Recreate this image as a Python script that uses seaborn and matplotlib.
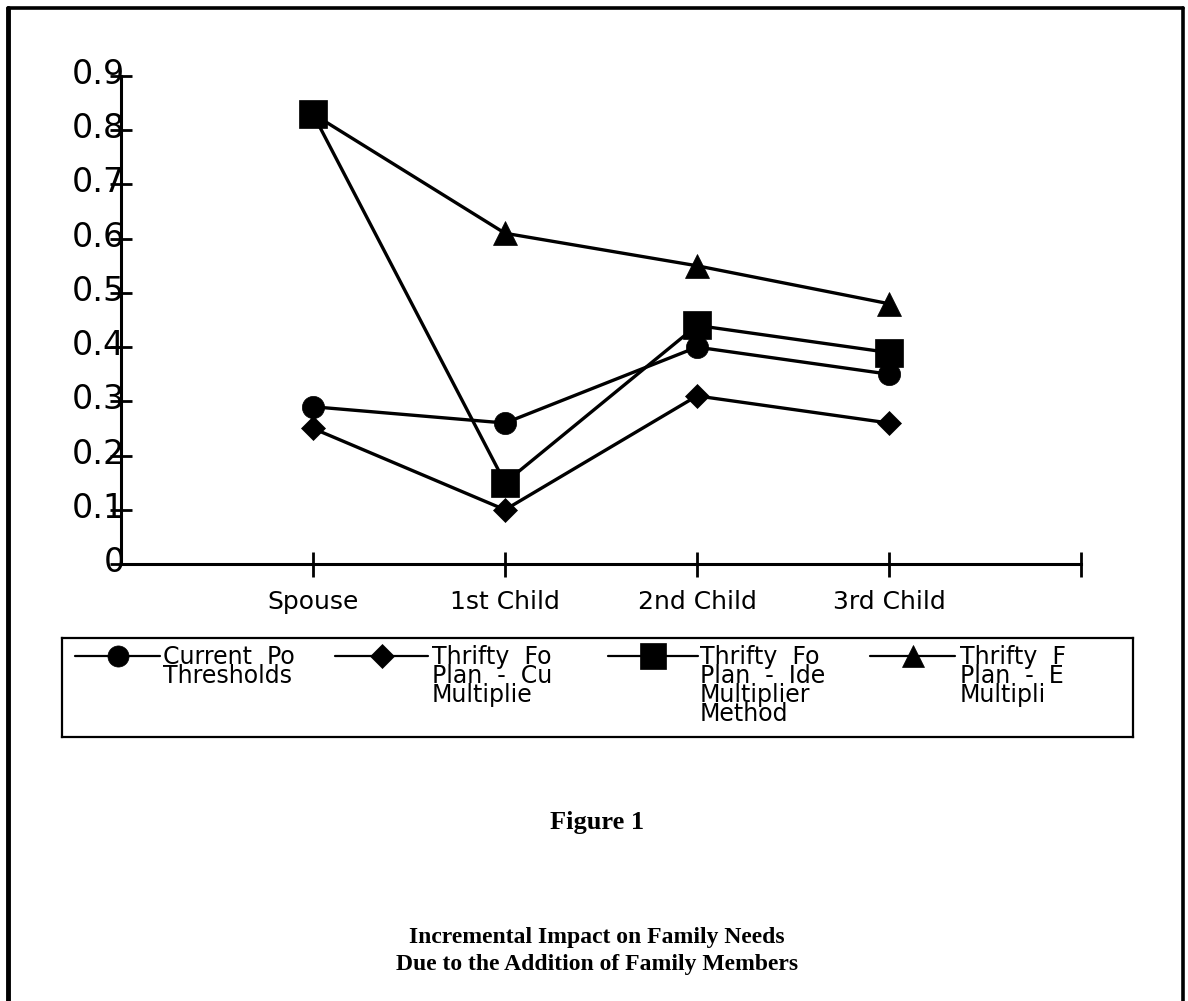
import pandas as pd
import matplotlib
matplotlib.use("Agg")
import matplotlib.pyplot as plt
import seaborn as sns
from matplotlib.lines import Line2D
from matplotlib.transforms import Bbox, TransformedBbox, ScaledTranslation

# data
members = ["Spouse", "1st Child", "2nd Child", "3rd Child"]
current_poverty = [0.29, 0.26, 0.40, 0.35]
tfp_current_mult = [0.25, 0.10, 0.31, 0.26]
tfp_ideal_mult = [0.83, 0.15, 0.44, 0.39]
tfp_engel_mult = [0.83, 0.61, 0.55, 0.48]

# legend text as it shows (cut off by the legend columns)
legend_text = [
    "Current  Po\nThresholds",
    "Thrifty  Fo\nPlan  -  Cu\nMultiplie",
    "Thrifty  Fo\nPlan  -  Ide\nMultiplier\nMethod",
    "Thrifty  F\nPlan  -  E\nMultipli",
]
y_ticks = [0, 0.1, 0.2, 0.3, 0.4, 0.5, 0.6, 0.7, 0.8, 0.9]
y_tick_labels = ["0", "0.1", "0.2", "0.3", "0.4", "0.5", "0.6", "0.7", "0.8", "0.9"]

W, H = 1188, 1001
sns.set_theme(style="white")
plt.rcParams["font.family"] = ["DejaVu Sans"]
plt.rcParams["text.color"] = "black"

fig = plt.figure(figsize=(W / 100, H / 100), dpi=100)
# axes placed in pixel units of the page
ax = fig.add_axes([121 / W, 1 - 564 / H, (1081 - 121) / W, (564 - 76) / H])

series = [current_poverty, tfp_current_mult, tfp_ideal_mult, tfp_engel_mult]
markers = ["o", "D", "s", "^"]
msizes = [16, 12.5, 19.5, 17]
# engel first so the ideal-multiplier square sits on top at Spouse
for i in [3, 0, 1, 2]:
    sns.lineplot(x=members, y=series[i], sort=False, color="black", lw=2.4,
                 marker=markers[i], markersize=msizes[i], markeredgewidth=0.5,
                 markeredgecolor="black", ax=ax)

ax.set_xlim(-1, 4)
ax.set_ylim(0, 0.9)
ax.set_xticks([0, 1, 2, 3, 4])
ax.set_xticklabels(members + [""])
ax.set_yticks(y_ticks)
ax.set_yticklabels(y_tick_labels)
ax.set_xlabel("")
ax.set_ylabel("")
for s in ["top", "right"]:
    ax.spines[s].set_visible(False)
for s in ["left", "bottom"]:
    ax.spines[s].set_color("black")
    ax.spines[s].set_linewidth(2.2)
ax.tick_params(axis="y", direction="inout", length=16, width=2, pad=-11,
               labelsize=24, colors="black", left=True)
ax.tick_params(axis="x", direction="inout", length=18, width=2, pad=10,
               labelsize=18, colors="black", bottom=True)
off = ScaledTranslation(0, 5 / 100, fig.dpi_scale_trans)
for lbl in ax.get_yticklabels():
    lbl.set_transform(lbl.get_transform() + off)

# legend box drawn by hand, coordinates = page pixels
lax = fig.add_axes([62 / W, 1 - 737 / H, (1133 - 62) / W, (737 - 638) / H])
lax.set_xlim(62, 1133)
lax.set_ylim(737, 638)
lax.set_xticks([])
lax.set_yticks([])
for s in lax.spines.values():
    s.set_color("black")
    s.set_linewidth(1.6)

handle_x = [(75, 160), (335, 428), (608, 698), (870, 955)]
text_x = [163, 432, 700, 960]
clip_x = [318, 572, 842, 1100]
for (x0, x1), tx, cx, mk, ms, lab in zip(handle_x, text_x, clip_x, markers, msizes, legend_text):
    lax.add_line(Line2D([x0, (x0 + x1) / 2, x1], [656, 656, 656], color="black", lw=1.6,
                        marker=mk, markersize=ms * 0.95, markevery=[1], markeredgewidth=0.5))
    t = lax.text(tx, 645, lab, fontsize=17, va="top", ha="left", linespacing=0.74, color="black")
    t.set_clip_box(TransformedBbox(Bbox([[tx / W - 0.01, 0], [cx / W, 1]]), fig.transFigure))
    t.set_clip_on(True)

# page frame
fig.add_artist(Line2D([8 / W, 8 / W], [0, 1 - 8 / H], transform=fig.transFigure, color="black", lw=3.5))
fig.add_artist(Line2D([8 / W, 1183 / W], [1 - 8 / H, 1 - 8 / H], transform=fig.transFigure, color="black", lw=2.6))
fig.add_artist(Line2D([1183 / W, 1183 / W], [0, 1 - 8 / H], transform=fig.transFigure, color="black", lw=2.6))

fig.text(597 / W, 1 - 823 / H, "Figure 1", ha="center", va="center", color="black",
         family="Liberation Serif", weight="bold", fontsize=19)
fig.text(597 / W, 1 - 951 / H, "Incremental Impact on Family Needs\nDue to the Addition of Family Members",
         ha="center", va="center", color="black", family="Liberation Serif", weight="bold",
         fontsize=17, linespacing=1.4)

fig.savefig("out.png", dpi=100)
